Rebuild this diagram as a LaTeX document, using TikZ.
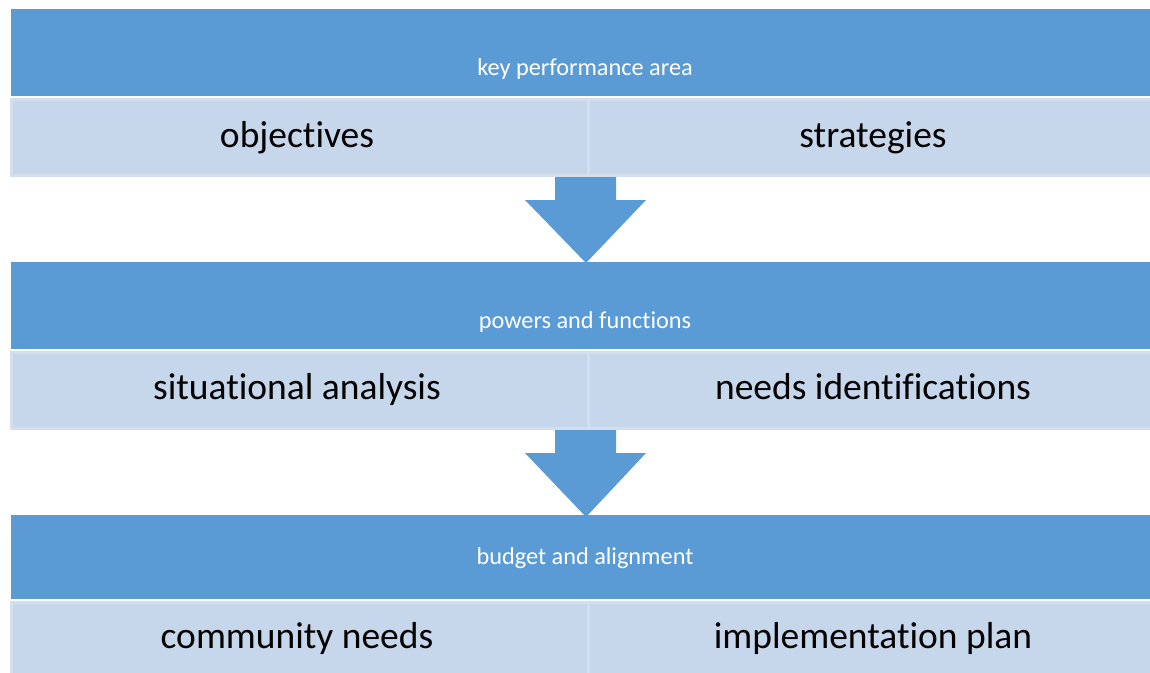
\documentclass[tikz,border=0pt]{standalone}
\usepackage{fontspec}
\setmainfont{Carlito}[Ligatures=NoCommon]
\usetikzlibrary{calc}
\definecolor{darkblue}{HTML}{5B9BD5}
\definecolor{lightblue}{HTML}{C6D6EB}
\definecolor{edgeblue}{HTML}{D3DFEF}
\tikzset{
  bar/.style={fill=darkblue, draw=none, anchor=north west, inner sep=0pt},
  cell/.style={fill=lightblue, draw=edgeblue, line width=3pt, anchor=north west, inner sep=0pt},
  head/.style={text=white, font=\fontsize{24.3}{29}\selectfont, inner sep=0pt, anchor=base},
  item/.style={text=black, font=\fontsize{37.5}{45}\selectfont, inner sep=0pt, anchor=base},
  flow/.style={fill=darkblue, draw=none}
}
\begin{document}
\begin{tikzpicture}[x=1pt,y=-1pt]
\useasboundingbox (0,0) rectangle (1150,672);
% arrows (drawn first, beneath the blocks)
\coordinate (a1t) at (586,175);
\coordinate (a2t) at (586,428);
\fill[flow] ($(a1t)+(-31,0)$) -- ($(a1t)+(30,0)$) -- ($(a1t)+(30,25)$) -- ($(a1t)+(60,25)$) -- ($(a1t)+(0,88)$) -- ($(a1t)+(-61,25)$) -- ($(a1t)+(-31,25)$) -- cycle;
\fill[flow] ($(a2t)+(-31,0)$) -- ($(a2t)+(30,0)$) -- ($(a2t)+(30,25)$) -- ($(a2t)+(60,25)$) -- ($(a2t)+(0,89)$) -- ($(a2t)+(-61,25)$) -- ($(a2t)+(-31,25)$) -- cycle;
% block 1
\node[bar, minimum width=1149pt, minimum height=87pt] (b1) at (11,9) {};
\node[cell, minimum width=577.5pt, minimum height=76pt] (c1l) at (9.5,97.5) {};
\node[cell, minimum width=575pt, minimum height=76pt] (c1r) at (587,97.5) {};
% block 2
\node[bar, minimum width=1149pt, minimum height=87pt] (b2) at (11,262) {};
\node[cell, minimum width=577.5pt, minimum height=76pt] (c2l) at (9.5,350.5) {};
\node[cell, minimum width=575pt, minimum height=76pt] (c2r) at (587,350.5) {};
% block 3
\node[bar, minimum width=1149pt, minimum height=84pt] (b3) at (11,515) {};
\node[cell, minimum width=577.5pt, minimum height=76pt] (c3l) at (9.5,600.5) {};
\node[cell, minimum width=575pt, minimum height=76pt] (c3r) at (587,600.5) {};
% texts
\node[head] (t1) at (585,75) {key performance area};
\node[item] (t1l) at (297,147) {objectives};
\node[item] (t1r) at (873,147) {strategies};
\node[head] (t2) at (585,328) {powers and functions};
\node[item] (t2l) at (297,399) {situational analysis};
\node[item] (t2r) at (873,399) {needs identifications};
\node[head] (t3) at (585,564) {budget and alignment};
\node[item] (t3l) at (297,648) {community needs};
\node[item] (t3r) at (873,648) {implementation plan};
\end{tikzpicture}
\end{document}
